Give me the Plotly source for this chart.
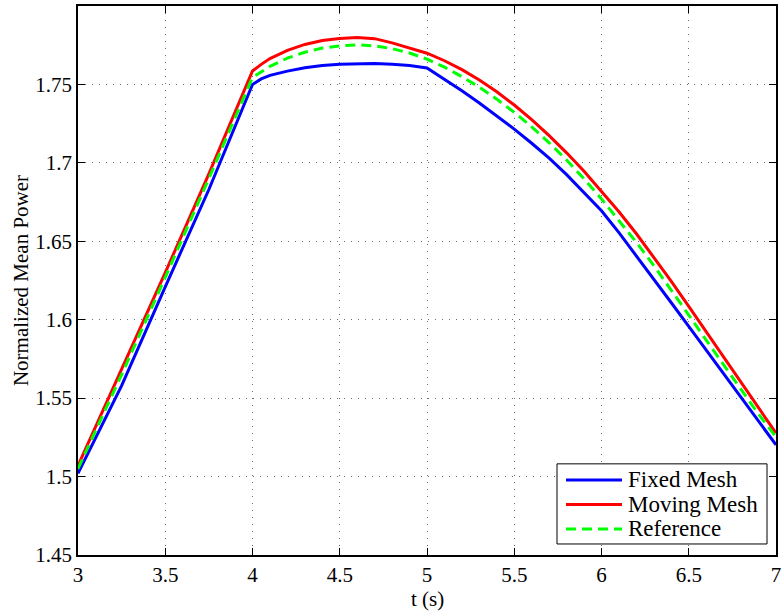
import plotly.graph_objects as go

t = [3.0, 3.25, 3.5, 3.75, 4.0, 4.05, 4.1, 4.2, 4.3, 4.4, 4.5, 4.6, 4.7, 4.8, 4.9, 5.0,
     5.1, 5.2, 5.3, 5.4, 5.5, 5.6, 5.7, 5.8, 5.9, 6.0, 6.1, 6.2, 6.3, 6.4, 6.5, 6.6, 6.7, 6.8, 6.9, 7.0]
fixed_mesh = [1.502, 1.558, 1.621, 1.683, 1.750, 1.7535, 1.7558, 1.7585, 1.7606, 1.7620, 1.7629, 1.7633,
              1.7633, 1.7629, 1.7620, 1.7605, 1.7535, 1.7460, 1.7382, 1.7300, 1.7215, 1.7125, 1.7030,
              1.6925, 1.6812, 1.6695, 1.6555, 1.6408, 1.6258, 1.6108, 1.5958, 1.5808, 1.5655, 1.5505,
              1.5352, 1.5202]
moving_mesh = [1.507, 1.568, 1.630, 1.693, 1.7586, 1.7628, 1.7665, 1.7717, 1.7755, 1.7780, 1.7793, 1.7799,
               1.7792, 1.7765, 1.7730, 1.7699, 1.7651, 1.7594, 1.7528, 1.7453, 1.7369, 1.7276, 1.7174,
               1.7064, 1.6946, 1.6820, 1.6688, 1.6548, 1.6400, 1.6245, 1.6085, 1.5925, 1.5763, 1.5600,
               1.5438, 1.5277]
reference = [1.505, 1.565, 1.627, 1.690, 1.7545, 1.7582, 1.7615, 1.7668, 1.7705, 1.7732, 1.7746, 1.7752,
             1.7746, 1.7728, 1.7700, 1.7661, 1.7610, 1.7550, 1.7482, 1.7406, 1.7322, 1.7230, 1.7128,
             1.7018, 1.6898, 1.6770, 1.6635, 1.6493, 1.6345, 1.6190, 1.6030, 1.5870, 1.5710, 1.5550,
             1.5398, 1.5252]

series_names = ["Fixed Mesh", "Moving Mesh", "Reference"]
x_ticks = [3, 3.5, 4, 4.5, 5, 5.5, 6, 6.5, 7]
x_tick_text = ["3", "3.5", "4", "4.5", "5", "5.5", "6", "6.5", "7"]
y_ticks = [1.45, 1.5, 1.55, 1.6, 1.65, 1.7, 1.75]
y_tick_text = ["1.45", "1.5", "1.55", "1.6", "1.65", "1.7", "1.75"]

FONT = "Liberation Serif"
colors = ["#0000FF", "#FF0000", "#00FF00"]
dashes = ["solid", "solid", "10px,6px"]

fig = go.Figure()
for name, ys, c, d in zip(series_names, [fixed_mesh, moving_mesh, reference], colors, dashes):
    fig.add_trace(go.Scatter(x=t, y=ys, mode="lines", name=name,
                             line=dict(color=c, width=3, dash=d),
                             showlegend=False))

# manual legend (MATLAB-style box)
def px2x(px):
    return 3 + (px - 78) / 174.5

def py2y(py):
    return 1.45 + (555 - py) / 1566.0

fig.add_shape(type="rect", xref="x", yref="y", x0=px2x(557), x1=px2x(767), y0=py2y(544), y1=py2y(464),
              line=dict(color="black", width=1), fillcolor="white", layer="above")
rows = [480, 504.5, 529]
for name, c, d, r in zip(series_names, colors, dashes, rows):
    fig.add_shape(type="line", xref="x", yref="y", x0=px2x(566), x1=px2x(622), y0=py2y(r), y1=py2y(r),
                  line=dict(color=c, width=3, dash=d), layer="above")
    fig.add_annotation(x=px2x(626), y=py2y(r), xref="x", yref="y", text=name, showarrow=False,
                       xanchor="left", yanchor="middle", font=dict(family=FONT, size=23, color="black"))

# x-axis title
fig.add_annotation(x=0.5, y=(555 - 599) / 549.0, xref="paper", yref="paper", text="t (s)",
                   showarrow=False, xanchor="center", yanchor="middle",
                   font=dict(family=FONT, size=21, color="black"))

axis_common = dict(showline=True, linecolor="black", linewidth=1.5, mirror="ticks", ticks="inside",
                   ticklen=7, tickcolor="black", showgrid=True, gridcolor="rgba(60,60,60,0.75)",
                   griddash="1px,6px", gridwidth=1, zeroline=False,
                   tickfont=dict(family=FONT, size=21, color="black"))

fig.update_xaxes(range=[3, 7], tickvals=x_ticks, ticktext=x_tick_text, **axis_common)
fig.update_yaxes(range=[1.45, 1.8], tickvals=y_ticks, ticktext=y_tick_text,
                 title=dict(text="Normalized Mean Power", font=dict(family=FONT, size=21, color="black"),
                            standoff=1),
                 **axis_common)

fig.update_layout(width=783, height=611, margin=dict(l=78, r=7, t=6, b=56, autoexpand=False),
                  plot_bgcolor="white", paper_bgcolor="white", showlegend=False,
                  font=dict(family=FONT, size=21, color="black"))

fig.write_html("out.html")
